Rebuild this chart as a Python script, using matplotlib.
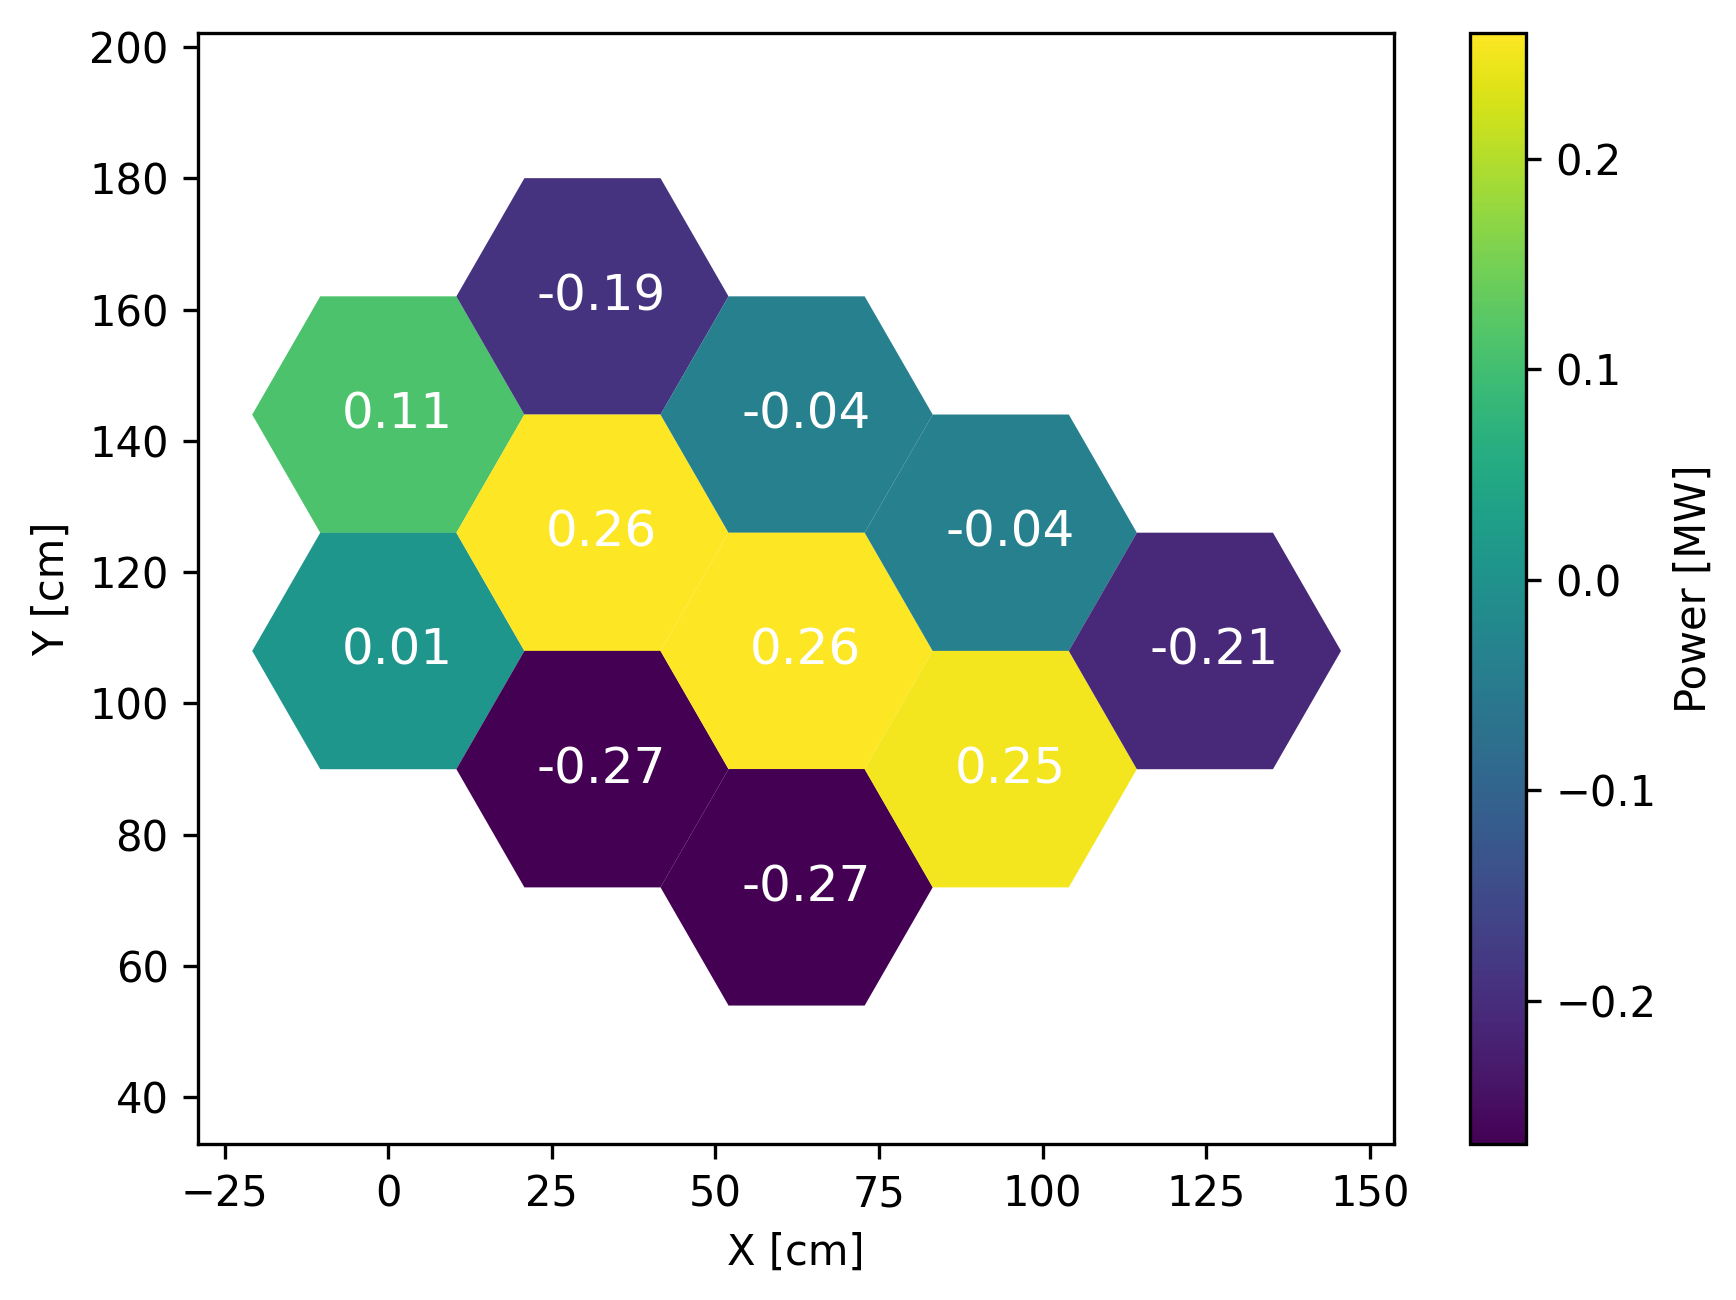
import numpy as np
import matplotlib
matplotlib.use("Agg")
import matplotlib.pyplot as plt
from matplotlib.patches import RegularPolygon
from matplotlib.collections import PatchCollection

x_centers = [0.0, 0.0, 31.2, 31.2, 31.2, 62.4, 62.4, 62.4, 93.6, 93.6, 124.8]
y_centers = [144, 108, 162, 126, 90, 144, 108, 72, 126, 90, 108]
power = [0.11, 0.01, -0.19, 0.26, -0.268, -0.04, 0.26, -0.268, -0.04, 0.25, -0.21]
radius = 20.8

fig = plt.figure(figsize=(1736/300, 1300/300), dpi=300)
ax = fig.add_axes([0.114, 0.12, 0.689, 0.855])
cax = fig.add_axes([0.847, 0.12, 0.032, 0.855])

patches = [RegularPolygon((x, y), 6, radius=radius, orientation=np.pi/6)
           for x, y in zip(x_centers, y_centers)]
pc = PatchCollection(patches, cmap='viridis', edgecolor='none')
pc.set_array(np.array(power))
pc.set_clim(min(power), max(power))
ax.add_collection(pc)
for x, y, v in zip(x_centers, y_centers, power):
    ax.text(x + 1.4, y, f"{v:.2f}", ha='center', va='center', color='white', fontsize=12)

ax.set_xlim(-29.1, 153.7)
ax.set_ylim(32.9, 202.2)
ax.set_xticks([-25, 0, 25, 50, 75, 100, 125, 150])
ax.set_yticks([40, 60, 80, 100, 120, 140, 160, 180, 200])
ax.set_xlabel("X [cm]")
ax.set_ylabel("Y [cm]")
cb = fig.colorbar(pc, cax=cax)
cb.set_label("Power [MW]")
cb.set_ticks([-0.2, -0.1, 0.0, 0.1, 0.2])
fig.savefig("out.png", dpi=300)
